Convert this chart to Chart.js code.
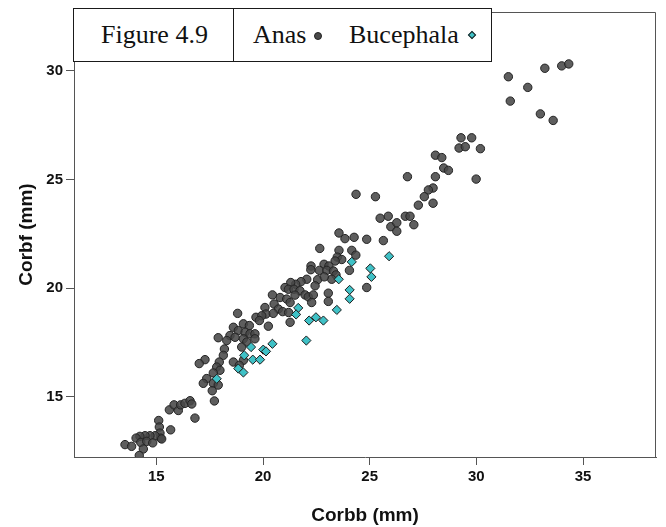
<!DOCTYPE html>
<html>
<head>
<meta charset="utf-8">
<script src="https://cdn.jsdelivr.net/npm/chart.js@4.4.1/dist/chart.umd.min.js"></script>
<style>
  html, body { margin: 0; padding: 0; background: #fff; }
  #wrap { position: relative; width: 666px; height: 527px; }
  #legendBox {
    position: absolute; left: 73px; top: 8px; width: 419px; height: 54px;
    border: 1px solid #1a1a1a; background: #fff; box-sizing: border-box;
    font-family: "Liberation Serif", "Times New Roman", serif; font-size: 26px; color: #111;
  }
  #legendBox span { position: absolute; line-height: 26px; white-space: nowrap; }
  #legendBox .divider { position: absolute; left: 159px; top: 0; width: 1px; height: 100%; background: #1a1a1a; }
  .dot { position: absolute; width: 8px; height: 8px; border-radius: 50%; background: #4a4a4a; border: 1px solid #222; box-sizing: border-box; }
  .diamond { position: absolute; width: 6px; height: 6px; background: #3fc1c6; border: 1px solid #1b1b1b; box-sizing: border-box; transform: rotate(45deg); }
</style>
</head>
<body>
<div id="wrap">
  <canvas id="chart" width="666" height="527"></canvas>
  <div id="legendBox">
    <span style="left:27px; top:13px;">Figure 4.9</span>
    <div class="divider"></div>
    <span style="left:179px; top:13px;">Anas</span>
    <div class="dot" style="left:240px; top:23px;"></div>
    <span style="left:275px; top:13px;">Bucephala</span>
    <div class="diamond" style="left:395px; top:23px;"></div>
  </div>
</div>
<script>
// Corbb (x) and Corbf (y), mm
const anasX = [
  31.50, 32.41, 31.59, 33.21, 34.00, 34.33, 33.00, 33.60,
  29.28, 29.78, 29.19, 29.48, 30.19, 29.99, 28.08, 28.38, 28.47, 28.69, 28.08, 26.77,
  27.97, 27.75, 27.56, 27.28, 27.97, 26.67, 26.89, 25.87, 25.49, 25.99, 26.27, 26.27, 27.07, 25.64,
  24.36, 25.27, 23.56, 23.84, 24.27, 24.86,
  22.66, 23.56, 24.16, 23.48, 23.69, 23.38, 24.35, 24.05, 22.25, 22.86, 23.09, 22.24, 22.64, 22.99,
  23.30, 23.42, 23.22, 22.56, 22.87, 22.44, 22.05, 21.78, 21.53, 21.30, 21.03, 21.19, 21.45, 21.73,
  21.97, 21.50, 22.12, 22.36, 22.28, 23.06, 23.06, 24.86, 20.80, 21.11, 21.27, 20.44, 20.52, 20.72,
  20.92, 20.09, 20.14, 20.48, 21.27, 21.20, 18.81, 19.67, 19.94, 19.83, 20.25, 19.08, 19.36, 18.61,
  18.84, 19.16, 19.39, 19.62, 17.90, 18.45, 18.69, 18.30, 19.08, 19.24, 19.62, 19.00, 18.19, 17.28,
  17.01, 18.14, 17.95, 17.83, 18.61, 19.08, 18.89, 17.98, 17.67, 17.36, 17.20, 17.67, 17.90, 17.62,
  17.72,
  15.61, 15.83, 16.03, 16.14, 16.34, 16.58, 16.66, 16.81, 15.11, 15.14, 15.17, 15.20, 15.67, 14.94,
  14.70, 14.47, 14.23, 14.05, 14.27, 14.55, 14.83, 13.53, 13.84, 14.39, 14.20, 15.25
];
const anasY = [
  29.73, 29.24, 28.61, 30.12, 30.23, 30.32, 28.02, 27.72,
  26.92, 26.92, 26.45, 26.51, 26.42, 25.02, 26.12, 26.01, 25.53, 25.42, 25.13, 25.13,
  24.61, 24.52, 24.21, 23.82, 23.91, 23.31, 23.31, 23.31, 23.22, 22.83, 23.01, 22.62, 22.92, 22.19,
  24.32, 24.21, 22.54, 22.28, 22.34, 22.25,
  21.83, 21.74, 21.74, 21.43, 21.32, 21.25, 21.52, 20.82, 21.02, 21.10, 21.02, 20.85, 20.82, 20.82,
  20.79, 20.61, 20.41, 20.39, 20.52, 20.11, 20.41, 20.30, 20.18, 20.26, 20.03, 19.95, 19.95, 19.88,
  19.69, 19.68, 19.60, 19.69, 19.34, 19.77, 19.39, 20.03, 19.57, 19.50, 19.34, 19.69, 19.27, 19.04,
  18.92, 19.11, 18.81, 18.84, 18.43, 18.88, 18.84, 18.66, 18.73, 18.51, 18.25, 18.36, 18.28, 18.20,
  18.05, 17.97, 17.90, 17.90, 17.72, 17.82, 17.74, 17.59, 17.67, 17.52, 17.67, 17.29, 17.20, 16.71,
  16.53, 16.91, 16.60, 16.37, 16.60, 16.68, 16.45, 16.22, 16.10, 15.84, 15.62, 15.62, 15.54, 15.28,
  14.81,
  14.40, 14.63, 14.37, 14.63, 14.70, 14.82, 14.67, 14.02, 13.91, 13.61, 13.33, 13.10, 13.48, 13.21,
  13.21, 13.21, 13.18, 13.10, 12.90, 12.95, 12.88, 12.80, 12.72, 12.60, 12.30, 13.06
];
const bucephalaX = [
  25.91, 25.03, 25.08, 24.16, 23.55, 24.06, 24.06, 23.46, 21.65, 21.55, 22.16, 22.48,
  22.83, 22.03, 20.44, 19.44, 20.01, 20.14, 19.12, 19.52, 19.86, 18.84, 19.08, 17.83
];
const bucephalaY = [
  21.47, 20.91, 20.52, 21.21, 20.41, 19.92, 19.51, 19.00, 19.09, 18.79, 18.51, 18.66,
  18.51, 17.59, 17.44, 17.29, 17.17, 17.09, 16.91, 16.71, 16.71, 16.30, 16.12, 15.83
];
const xTicks = [15, 20, 25, 30, 35];
const yTicks = [15, 20, 25, 30];

const toPoints = (xs, ys) => xs.map((x, i) => ({ x: x, y: ys[i] }));

const tickFont = { family: "'Liberation Sans', Arial, sans-serif", size: 15, weight: 'bold' };
const titleFont = { family: "'Liberation Sans', Arial, sans-serif", size: 19, weight: 'bold' };

// draw the top and right sides of the plot frame
const framePlugin = {
  id: 'frame',
  afterDraw(chart) {
    const { ctx, chartArea: a } = chart;
    ctx.save();
    ctx.strokeStyle = '#555';
    ctx.lineWidth = 1;
    ctx.beginPath();
    ctx.moveTo(a.left, a.top + 0.5);
    ctx.lineTo(a.right - 0.5, a.top + 0.5);
    ctx.lineTo(a.right - 0.5, a.bottom);
    ctx.stroke();
    ctx.restore();
  }
};

new Chart(document.getElementById('chart').getContext('2d'), {
  type: 'scatter',
  data: {
    datasets: [
      {
        label: 'Bucephala',
        data: toPoints(bucephalaX, bucephalaY),
        pointStyle: 'rectRot',
        radius: 4.6,
        backgroundColor: '#3fc1c6',
        borderColor: '#1b1b1b',
        borderWidth: 1
      },
      {
        label: 'Anas',
        data: toPoints(anasX, anasY),
        pointStyle: 'circle',
        radius: 4.2,
        backgroundColor: 'rgba(72, 72, 72, 0.88)',
        borderColor: '#222',
        borderWidth: 1
      }
    ]
  },
  options: {
    responsive: false,
    animation: false,
    devicePixelRatio: 1,
    layout: { padding: { top: 9, right: 10, left: 0, bottom: 0 } },
    plugins: {
      legend: { display: false },
      tooltip: { enabled: false }
    },
    scales: {
      x: {
        type: 'linear',
        min: 11.14,
        max: 38.42,
        afterFit: s => { s.height = 70; },
        afterBuildTicks: s => { s.ticks = xTicks.map(v => ({ value: v })); },
        grid: { drawOnChartArea: false, drawTicks: true, tickLength: 8, color: '#555' },
        border: { color: '#555' },
        ticks: { padding: 3, font: tickFont, color: '#111', maxRotation: 0, autoSkip: false },
        title: { display: true, text: 'Corbb (mm)', font: titleFont, color: '#111', padding: { top: 7, bottom: 0 } }
      },
      y: {
        type: 'linear',
        min: 12.23,
        max: 32.71,
        afterFit: s => { s.width = 74; },
        afterBuildTicks: s => { s.ticks = yTicks.map(v => ({ value: v })); },
        grid: { drawOnChartArea: false, drawTicks: true, tickLength: 8, color: '#555' },
        border: { color: '#555' },
        ticks: { padding: 3, font: tickFont, color: '#111', autoSkip: false },
        title: { display: true, text: 'Corbf (mm)', font: titleFont, color: '#111', padding: { top: 15, bottom: 0 } }
      }
    }
  },
  plugins: [framePlugin]
});
</script>
</body>
</html>
